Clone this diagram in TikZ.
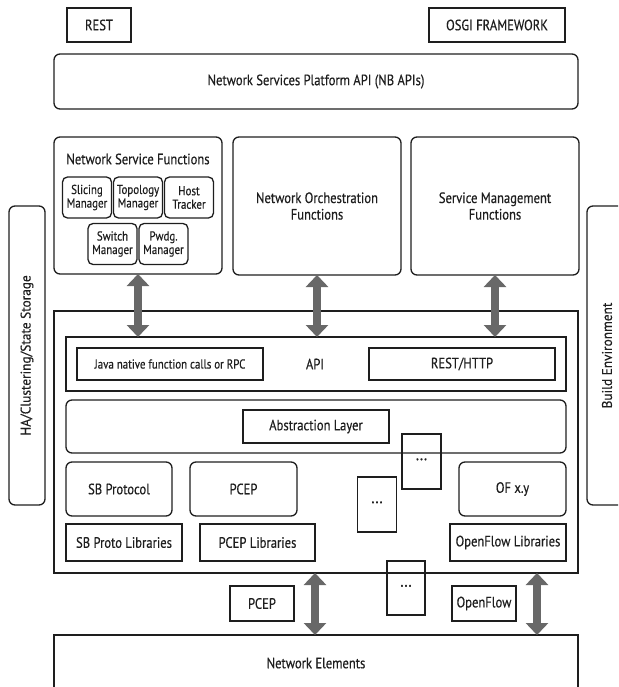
\documentclass[tikz,border=0pt]{standalone}
\usepackage{fontspec}
\setmainfont{PT Sans}[FakeStretch=0.84, FakeBold=0.4]
\newfontfamily\sidefont{PT Sans}[FakeStretch=0.95, FakeBold=0.4]
\usetikzlibrary{arrows.meta, positioning}
\definecolor{ink}{HTML}{1E1E1E}
\definecolor{pipegray}{HTML}{686868}

\begin{document}
\begin{tikzpicture}[
  x=1pt, y=-1pt,
  box/.style={rectangle, draw=ink, line width=1.3pt, inner sep=0pt, outer sep=0pt,
              align=center, text=ink, font=\fontsize{15}{16.5}\selectfont},
  rbox/.style={box, rounded corners=6pt},
  sbox/.style={rbox, rounded corners=5pt, minimum width=49pt, minimum height=41pt,
               font=\fontsize{13}{13.5}\selectfont},
  dotbox/.style={box, minimum width=39pt, minimum height=55pt, font=\fontsize{18}{18}\selectfont},
  sidebox/.style={rbox, minimum width=38pt, minimum height=299pt},
  sidetext/.style={rotate=90, text=ink, font=\sidefont\fontsize{14}{16}\selectfont},
  pipe/.style={draw=pipegray, line width=8pt,
               {Triangle[width=22pt,length=12pt]}-{Triangle[width=22pt,length=12pt]}}
]
  \useasboundingbox (0,0) rectangle (618,687);
  \clip (0,0) rectangle (618,687);

  % northbound side
  \node[box, minimum width=64pt, minimum height=34pt] (rest) at (99,25) {REST};
  \node[box, minimum width=136pt, minimum height=34pt] (osgi) at (497,25) {OSGI FRAMEWORK};
  \node[rbox, minimum width=524pt, minimum height=55pt] (nbapi) at (316,81.5)
       {Network Services Platform API (NB APIs)};

  \node[rbox, minimum width=168pt, minimum height=137pt] (nsf) at (138,205.5) {};
  \node[text=ink, font=\fontsize{15}{16.5}\selectfont] (nsftitle) at (138,159) {Network Service Functions};
  \node[sbox] (topo) at (138,197.5) {Topology\\Manager};
  \node[sbox, left=2pt of topo] (slicing) {Slicing\\Manager};
  \node[sbox, right=2pt of topo] (host) {Host\\Tracker};
  \node[sbox] (switch) at (112.5,244) {Switch\\Manager};
  \node[sbox, right=2pt of switch] (pwdg) {Pwdg.\\Manager};

  \node[rbox, minimum width=168pt, minimum height=138pt] (nof) at (317,206)
       {Network Orchestration\\Functions};
  \node[rbox, minimum width=168pt, minimum height=138pt] (smf) at (495,206)
       {Service Management\\Functions};

  \node[sidebox, minimum width=36pt] (ha) at (27,355.5) {};
  \node[sidetext] (hatext) at (ha.center) {HA/Clustering/State Storage};
  \node[sidebox, minimum width=40pt] (build) at (607,355.5) {};
  \node[sidetext] (buildtext) at (build.center) {Build Environment};

  % controller
  \node[box, minimum width=524pt, minimum height=262pt] (ctrl) at (316,442) {};
  \node[box, minimum width=500pt, minimum height=54pt] (apirow) at (316,364) {};
  \node[box, minimum width=186pt, minimum height=32pt, font=\fontsize{13}{15}\selectfont]
       (java) at (170,364) {Java native function calls or RPC};
  \node[text=ink, font=\fontsize{15}{16.5}\selectfont] (apitext) at (315,364) {API};
  \node[box, minimum width=186pt, minimum height=32pt] (http) at (462,364) {REST/HTTP};

  \node[rbox, minimum width=500pt, minimum height=53pt] (abslayer) at (316,426.5) {};
  \node[box, minimum width=146pt, minimum height=33pt] (abstext) at (316,426.5) {Abstraction Layer};

  \node[rbox, minimum width=106pt, minimum height=54pt] (sbproto) at (119,489) {SB Protocol};
  \node[rbox, minimum width=107pt, minimum height=54pt] (pcep) at (243.5,489) {PCEP};
  \node[rbox, minimum width=107pt, minimum height=54pt] (ofxy) at (512.5,489) {OF x.y};

  \node[box, minimum width=116pt, minimum height=37pt] (sblib) at (124,542.5) {SB Proto Libraries};
  \node[box, minimum width=115pt, minimum height=37pt] (pceplib) at (257.5,542.5) {PCEP Libraries};
  \node[box, minimum width=116pt, minimum height=37pt] (oflib) at (508,542.5) {OpenFlow Libraries};

  \node[dotbox] (dotsa) at (421.5,461.5) {···};
  \node[dotbox] (dotsb) at (377,504.5) {···};
  \node[dotbox, minimum width=38pt, minimum height=54pt] (dotsc) at (406,588) {···};

  % southbound side
  \node[box, minimum width=64pt, minimum height=35pt] (pcepsb) at (262,603.5) {PCEP};
  \node[box, minimum width=64pt, minimum height=35pt] (ofsb) at (484,603.5) {OpenFlow};
  \node[box, minimum width=524pt, minimum height=56pt] (ne) at (316,663) {Network Elements};

  \draw[pipe] (nsf.south) -- (nsf.south |- apirow.north);
  \draw[pipe] (nof.south) -- (nof.south |- apirow.north);
  \draw[pipe] (smf.south) -- (smf.south |- apirow.north);

  \coordinate (ofpipe) at (537,573);
  \draw[pipe] (ctrl.south -| pceplib.east) -- (ne.north -| pceplib.east);
  \draw[pipe] (ofpipe) -- (ofpipe |- ne.north);
\end{tikzpicture}
\end{document}
